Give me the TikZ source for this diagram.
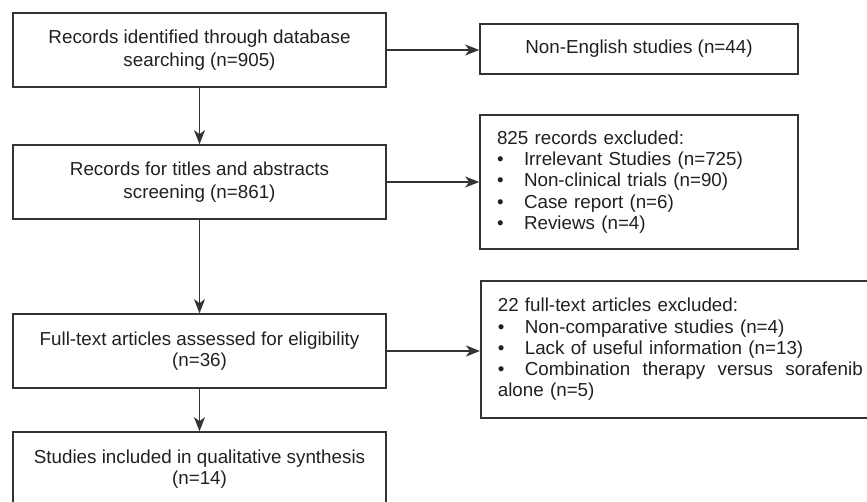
\documentclass[tikz,border=0pt]{standalone}
\usepackage{fontspec}
\setmainfont{Liberation Sans}
\usetikzlibrary{arrows.meta}
\definecolor{ink}{HTML}{231F20}
\definecolor{edgegray}{HTML}{333333}
\newcommand\pbul{\makebox[27pt][l]{\textbullet}}
\begin{document}
\begin{tikzpicture}[x=1pt,y=-1pt,
  box/.style={draw=edgegray, line width=1.6pt, text=ink, font=\fontsize{18.8}{21.2}\selectfont, inner sep=0pt},
  widebox/.style={box, font=\fontsize{18.8}{23.4}\selectfont},
  arr/.style={draw=edgegray, line width=1.6pt, -{Stealth[length=14pt,width=11pt,inset=4pt]}}]
\clip (0,0) rectangle (867,502);
\node[widebox, minimum width=373pt, minimum height=74pt, align=center] (b1) at (199.5,50)
  {Records identified through database\\searching (n=905)};
\node[box, minimum width=318pt, minimum height=50pt] (ne) at (639,49)
  {Non-English studies (n=44)};
\node[widebox, minimum width=373pt, minimum height=74pt, align=center] (b2) at (199.5,182)
  {Records for titles and abstracts\\screening (n=861)};
\node[box, minimum height=134pt, text width=284pt, inner xsep=17pt, align=left] (ex1) at (639,182)
  {825 records excluded:\\
   \pbul Irrelevant Studies (n=725)\\
   \pbul Non-clinical trials (n=90)\\
   \pbul Case report (n=6)\\
   \pbul Reviews (n=4)};
\node[box, minimum width=373pt, minimum height=74pt, align=center] (b3) at (199.5,351)
  {Full-text articles assessed for eligibility\\(n=36)};
\node[box, anchor=west, minimum height=137pt, text width=386pt, inner xsep=17pt, align=left] (ex2) at (480,349.5)
  {22 full-text articles excluded:\\
   \pbul Non-comparative studies (n=4)\\
   \pbul Lack of useful information (n=13)\\
   \makebox[365pt][l]{\pbul Combination\hfill therapy\hfill versus\hfill sorafenib}\\
   alone (n=5)};
\node[box, minimum width=373pt, minimum height=75pt, align=center] (b4) at (199.5,469.5)
  {Studies included in qualitative synthesis\\(n=14)};
\draw[arr] (b1.south) -- (b2.north);
\draw[arr] (b2.south) -- (b3.north);
\draw[arr] (b3.south) -- (b4.north);
\draw[arr] (b1.east) -- (b1.east -| ne.west);
\draw[arr] (b2.east) -- (b2.east -| ex1.west);
\draw[arr] (b3.east) -- (b3.east -| ex2.west);
\end{tikzpicture}
\end{document}
